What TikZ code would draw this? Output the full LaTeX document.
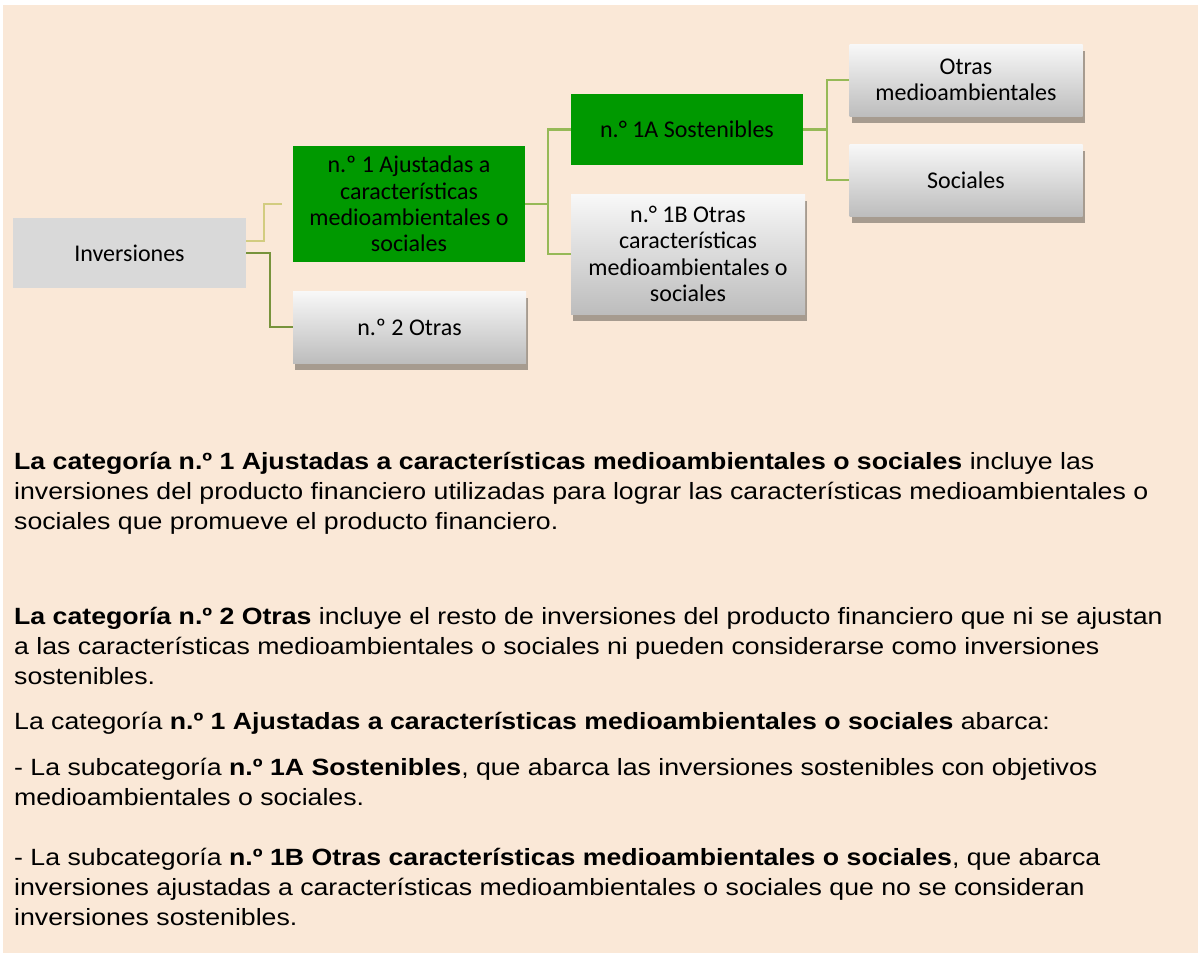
\documentclass[tikz,border=0pt]{standalone}
\usepackage{fontspec}
\setmainfont{Liberation Sans}[FakeStretch=1.135]
\newfontfamily\boxfont{Carlito}
\usetikzlibrary{shadows}
\definecolor{bgc}{HTML}{FAE8D7}
\definecolor{grn}{HTML}{009900}
\definecolor{gry}{HTML}{D9D9D9}
\definecolor{shd}{HTML}{A69B8F}
\definecolor{lnA}{HTML}{D2CC80}
\definecolor{lnB}{HTML}{77933C}
\definecolor{lnC}{HTML}{96B957}
\definecolor{gtop}{HTML}{F8F8F8}
\definecolor{gbot}{HTML}{BDBDBD}
\tikzset{
  box/.style={rectangle, inner sep=0pt, align=center, text=black,
    font=\boxfont\fontsize{24}{26.3}\selectfont},
  greenbox/.style={box, fill=grn},
  graybox/.style={box, fill=gry},
  gradbox/.style={box, top color=gtop, bottom color=gbot,
    drop shadow={shadow xshift=2pt, shadow yshift=-7pt, fill=shd, opacity=1}},
  conn/.style={line width=2.2pt},
  bodytext/.style={anchor=base west, inner sep=0pt, text=black,
    font=\fontsize{23.5}{30}\selectfont}
}
\begin{document}
\begin{tikzpicture}[x=1pt, y=-1pt]
\useasboundingbox (0,0) rectangle (1198,953);
\fill[white] (0,0) rectangle (1198,953);
\fill[bgc] (3,5) rectangle (1198,953);

% boxes
\node[graybox, minimum width=233pt, minimum height=70pt] (inv) at (129.5,253) {Inversiones};
\node[greenbox, minimum width=232pt, minimum height=116pt] (n1) at (409,204) {n.º 1 Ajustadas a\\características\\medioambientales o\\sociales};
\node[gradbox, minimum width=233pt, minimum height=72pt] (n2) at (409.5,327) {n.º 2 Otras};
\node[greenbox, minimum width=232pt, minimum height=71pt] (s1a) at (687,129.5) {n.° 1A Sostenibles};
\node[gradbox, minimum width=234pt, minimum height=120pt] (s1b) at (688,254) {n.° 1B Otras\\características\\medioambientales o\\sociales};
\node[gradbox, minimum width=233pt, minimum height=72pt] (oth) at (966,80) {Otras\\medioambientales};
\node[gradbox, minimum width=233pt, minimum height=72pt] (soc) at (966,180) {Sociales};

% connectors
\coordinate (c1end) at ([xshift=-11pt]n1.west);
\draw[conn, lnA] ([yshift=12pt]inv.east) -- ++(18,0) |- (c1end);
\draw[conn, lnB] (inv.east) -- ++(24,0) |- (n2.west);
\draw[conn, lnC] (n1.east) -- ++(23,0) |- (s1a.west);
\draw[conn, lnC] (n1.east) -- ++(23,0) |- (s1b.west);
\draw[conn, lnC] (s1a.east) -- ++(24,0) |- (oth.west);
\draw[conn, lnC] (s1a.east) -- ++(24,0) |- (soc.west);

% body text
\node[bodytext] (p1a) at (14,469) {\textbf{La categoría n.º 1 Ajustadas a características medioambientales o sociales} incluye las};
\node[bodytext] (p1b) at (14,499) {inversiones del producto financiero utilizadas para lograr las características medioambientales o};
\node[bodytext] (p1c) at (14,529) {sociales que promueve el producto financiero.};
\node[bodytext] (p2a) at (14,624) {\textbf{La categoría n.º 2 Otras} incluye el resto de inversiones del producto financiero que ni se ajustan};
\node[bodytext] (p2b) at (14,654) {a las características medioambientales o sociales ni pueden considerarse como inversiones};
\node[bodytext] (p2c) at (14,684) {sostenibles.};
\node[bodytext] (p3) at (14,729) {La categoría \textbf{n.º 1 Ajustadas a características medioambientales o sociales} abarca:};
\node[bodytext] (p4a) at (14,775) {- La subcategoría \textbf{n.º 1A Sostenibles}, que abarca las inversiones sostenibles con objetivos};
\node[bodytext] (p4b) at (14,805) {medioambientales o sociales.};
\node[bodytext] (p5a) at (14,865) {- La subcategoría \textbf{n.º 1B Otras características medioambientales o sociales}, que abarca};
\node[bodytext] (p5b) at (14,895) {inversiones ajustadas a características medioambientales o sociales que no se consideran};
\node[bodytext] (p5c) at (14,925) {inversiones sostenibles.};
\end{tikzpicture}
\end{document}
